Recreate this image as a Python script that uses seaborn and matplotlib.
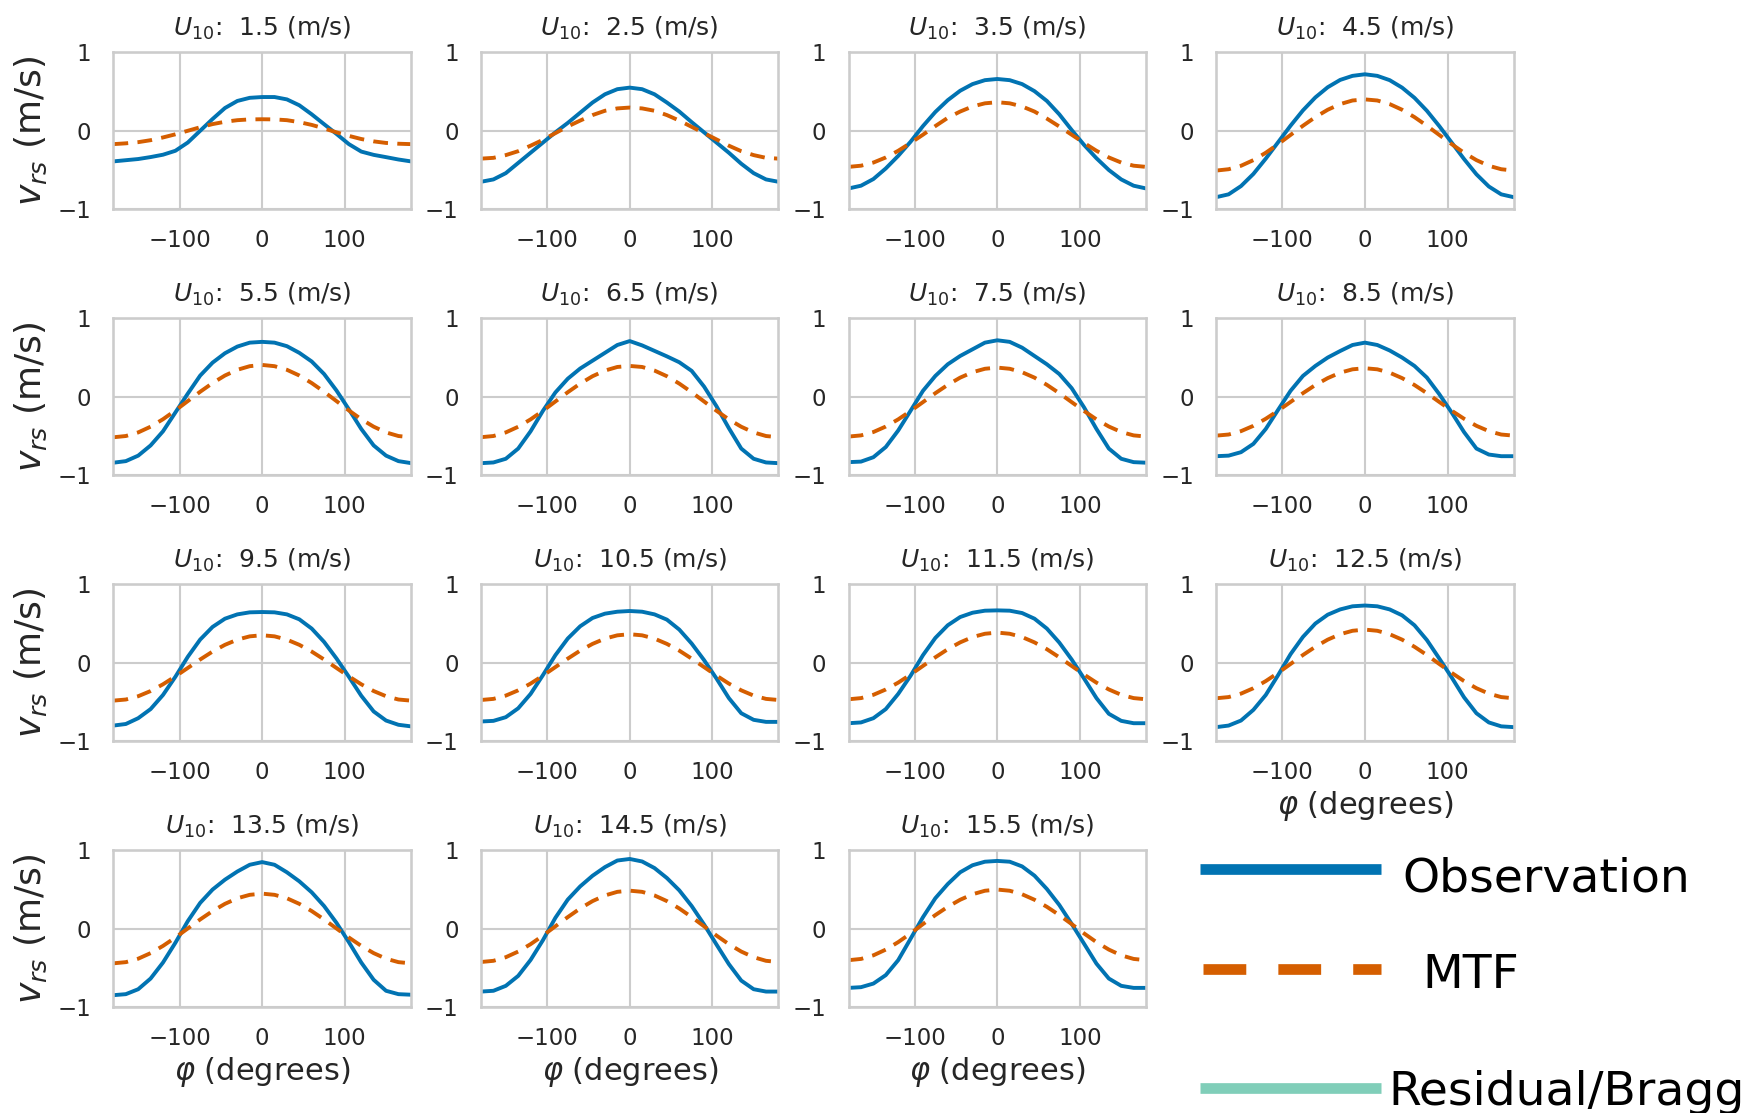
import matplotlib
matplotlib.use("Agg")
import matplotlib.pyplot as plt
from matplotlib.lines import Line2D
import seaborn as sns
import numpy as np

# ---------------- data ----------------
phi = [-180, -165, -150, -135, -120, -105, -90, -75, -60, -45, -30, -15, 0,
       15, 30, 45, 60, 75, 90, 105, 120, 135, 150, 165, 180]

wind_speeds = [1.5, 2.5, 3.5, 4.5, 5.5, 6.5, 7.5, 8.5, 9.5, 10.5, 11.5, 12.5, 13.5, 14.5, 15.5]

obs_01 = [-0.39, -0.375, -0.36, -0.335, -0.305, -0.255, -0.15, 0.0, 0.15, 0.29, 0.38, 0.42, 0.43,
          0.43, 0.40, 0.325, 0.21, 0.084, -0.04, -0.17, -0.265, -0.307, -0.336, -0.366, -0.39]
mtf_01 = [-0.17, -0.16, -0.145, -0.12, -0.085, -0.045, 0.0, 0.045, 0.085, 0.115, 0.135, 0.145, 0.147,
          0.145, 0.135, 0.11, 0.075, 0.03, -0.02, -0.065, -0.105, -0.135, -0.155, -0.165, -0.17]

obs_02 = [-0.65, -0.62, -0.54, -0.41, -0.28, -0.15, -0.02, 0.10, 0.23, 0.36, 0.465, 0.53, 0.55,
          0.53, 0.465, 0.36, 0.245, 0.11, -0.02, -0.15, -0.28, -0.42, -0.54, -0.62, -0.65]
mtf_02 = [-0.355, -0.345, -0.31, -0.26, -0.19, -0.115, -0.03, 0.055, 0.13, 0.2, 0.255, 0.285, 0.296,
          0.285, 0.255, 0.2, 0.13, 0.05, -0.03, -0.11, -0.19, -0.26, -0.31, -0.345, -0.355]

obs_03 = [-0.735, -0.70, -0.615, -0.48, -0.32, -0.14, 0.06, 0.24, 0.39, 0.51, 0.595, 0.645, 0.66,
          0.645, 0.595, 0.505, 0.38, 0.21, 0.01, -0.18, -0.35, -0.50, -0.62, -0.70, -0.735]
mtf_03 = [-0.46, -0.445, -0.405, -0.34, -0.255, -0.155, -0.05, 0.06, 0.165, 0.245, 0.31, 0.35, 0.364,
          0.35, 0.31, 0.245, 0.155, 0.055, -0.05, -0.155, -0.255, -0.34, -0.405, -0.445, -0.46]

obs_04 = [-0.846, -0.81, -0.705, -0.55, -0.355, -0.145, 0.065, 0.26, 0.425, 0.555, 0.648, 0.70, 0.72,
          0.70, 0.645, 0.55, 0.42, 0.255, 0.06, -0.15, -0.36, -0.555, -0.71, -0.81, -0.846]
mtf_04 = [-0.507, -0.49, -0.446, -0.374, -0.28, -0.17, -0.053, 0.064, 0.174, 0.268, 0.34, 0.386, 0.40,
          0.386, 0.34, 0.268, 0.174, 0.064, -0.053, -0.17, -0.28, -0.374, -0.446, -0.49, -0.507]

obs_05 = [-0.84, -0.82, -0.75, -0.62, -0.44, -0.20, 0.04, 0.27, 0.435, 0.555, 0.64, 0.69, 0.70,
          0.69, 0.645, 0.56, 0.45, 0.29, 0.08, -0.16, -0.41, -0.62, -0.75, -0.82, -0.845]
mtf_05 = [-0.516, -0.50, -0.454, -0.381, -0.286, -0.174, -0.055, 0.064, 0.175, 0.271, 0.344, 0.39, 0.406,
          0.39, 0.344, 0.271, 0.175, 0.064, -0.055, -0.174, -0.286, -0.381, -0.454, -0.50, -0.516]

obs_06 = [-0.846, -0.837, -0.79, -0.66, -0.44, -0.178, 0.055, 0.23, 0.36, 0.46, 0.56, 0.66, 0.71,
          0.655, 0.585, 0.515, 0.44, 0.33, 0.13, -0.12, -0.40, -0.66, -0.79, -0.837, -0.846]
mtf_06 = [-0.515, -0.50, -0.454, -0.382, -0.288, -0.178, -0.06, 0.058, 0.168, 0.262, 0.334, 0.38, 0.393,
          0.38, 0.334, 0.262, 0.168, 0.058, -0.06, -0.178, -0.288, -0.382, -0.454, -0.50, -0.515]

obs_07 = [-0.833, -0.826, -0.77, -0.64, -0.43, -0.178, 0.076, 0.266, 0.414, 0.52, 0.605, 0.69, 0.72,
          0.70, 0.626, 0.52, 0.414, 0.29, 0.11, -0.135, -0.41, -0.66, -0.79, -0.833, -0.84]
mtf_07 = [-0.507, -0.492, -0.449, -0.379, -0.288, -0.181, -0.068, 0.046, 0.152, 0.244, 0.313, 0.357, 0.372,
          0.357, 0.313, 0.244, 0.152, 0.046, -0.068, -0.181, -0.288, -0.379, -0.449, -0.492, -0.507]

obs_08 = [-0.757, -0.75, -0.706, -0.60, -0.41, -0.165, 0.076, 0.266, 0.393, 0.50, 0.583, 0.66, 0.69,
          0.66, 0.59, 0.50, 0.393, 0.245, 0.034, -0.20, -0.45, -0.66, -0.736, -0.757, -0.757]
mtf_08 = [-0.495, -0.481, -0.438, -0.37, -0.28, -0.177, -0.066, 0.046, 0.15, 0.238, 0.307, 0.35, 0.364,
          0.35, 0.307, 0.238, 0.15, 0.046, -0.066, -0.177, -0.28, -0.37, -0.438, -0.481, -0.495]

obs_09 = [-0.80, -0.78, -0.706, -0.59, -0.41, -0.178, 0.076, 0.296, 0.457, 0.562, 0.617, 0.643, 0.647,
          0.643, 0.617, 0.554, 0.436, 0.266, 0.055, -0.178, -0.42, -0.62, -0.736, -0.79, -0.81]
mtf_09 = [-0.482, -0.468, -0.426, -0.36, -0.274, -0.173, -0.066, 0.042, 0.143, 0.229, 0.295, 0.337, 0.351,
          0.337, 0.295, 0.229, 0.143, 0.042, -0.066, -0.173, -0.274, -0.36, -0.426, -0.468, -0.482]

obs_10 = [-0.748, -0.74, -0.693, -0.58, -0.397, -0.156, 0.097, 0.309, 0.465, 0.571, 0.626, 0.651, 0.66,
          0.651, 0.617, 0.55, 0.423, 0.245, 0.034, -0.20, -0.45, -0.643, -0.727, -0.753, -0.753]
mtf_10 = [-0.474, -0.46, -0.418, -0.351, -0.265, -0.163, -0.055, 0.053, 0.155, 0.241, 0.308, 0.35, 0.364,
          0.35, 0.308, 0.241, 0.155, 0.053, -0.055, -0.163, -0.265, -0.351, -0.418, -0.46, -0.474]

obs_11 = [-0.77, -0.76, -0.706, -0.59, -0.397, -0.165, 0.097, 0.317, 0.478, 0.583, 0.638, 0.664, 0.668,
          0.664, 0.634, 0.562, 0.436, 0.258, 0.042, -0.20, -0.45, -0.65, -0.74, -0.77, -0.77]
mtf_11 = [-0.465, -0.45, -0.408, -0.34, -0.253, -0.15, -0.04, 0.07, 0.173, 0.26, 0.328, 0.37, 0.385,
          0.37, 0.328, 0.26, 0.173, 0.07, -0.04, -0.15, -0.253, -0.34, -0.408, -0.45, -0.465]

obs_12 = [-0.82, -0.80, -0.736, -0.60, -0.41, -0.156, 0.11, 0.33, 0.50, 0.613, 0.68, 0.72, 0.73,
          0.72, 0.68, 0.605, 0.478, 0.29, 0.055, -0.186, -0.44, -0.643, -0.76, -0.81, -0.82]
mtf_12 = [-0.452, -0.437, -0.393, -0.324, -0.233, -0.128, -0.015, 0.099, 0.204, 0.295, 0.364, 0.408, 0.423,
          0.408, 0.364, 0.295, 0.204, 0.099, -0.015, -0.128, -0.233, -0.324, -0.393, -0.437, -0.452]

obs_13 = [-0.846, -0.833, -0.77, -0.634, -0.43, -0.178, 0.097, 0.33, 0.50, 0.626, 0.73, 0.816, 0.85,
          0.816, 0.72, 0.605, 0.465, 0.29, 0.076, -0.17, -0.43, -0.65, -0.79, -0.833, -0.84]
mtf_13 = [-0.44, -0.425, -0.381, -0.31, -0.218, -0.111, 0.004, 0.119, 0.226, 0.318, 0.389, 0.433, 0.448,
          0.433, 0.389, 0.318, 0.226, 0.119, 0.004, -0.111, -0.218, -0.31, -0.381, -0.425, -0.44]

obs_14 = [-0.80, -0.79, -0.727, -0.60, -0.397, -0.144, 0.14, 0.372, 0.54, 0.676, 0.786, 0.87, 0.89,
          0.858, 0.774, 0.647, 0.49, 0.29, 0.055, -0.20, -0.45, -0.66, -0.77, -0.80, -0.80]
mtf_14 = [-0.423, -0.408, -0.362, -0.29, -0.196, -0.086, 0.032, 0.149, 0.259, 0.353, 0.425, 0.471, 0.486,
          0.471, 0.425, 0.353, 0.259, 0.149, 0.032, -0.086, -0.196, -0.29, -0.362, -0.408, -0.423]

obs_15 = [-0.753, -0.744, -0.698, -0.59, -0.40, -0.127, 0.148, 0.39, 0.57, 0.72, 0.81, 0.855, 0.865,
          0.855, 0.795, 0.677, 0.507, 0.304, 0.063, -0.19, -0.444, -0.634, -0.727, -0.753, -0.753]
mtf_15 = [-0.40, -0.384, -0.338, -0.265, -0.17, -0.059, 0.06, 0.175, 0.28, 0.37, 0.44, 0.485, 0.50,
          0.485, 0.44, 0.37, 0.28, 0.175, 0.06, -0.059, -0.17, -0.265, -0.338, -0.384, -0.40]

obs_series = [obs_01, obs_02, obs_03, obs_04, obs_05, obs_06, obs_07, obs_08,
              obs_09, obs_10, obs_11, obs_12, obs_13, obs_14, obs_15]
mtf_series = [mtf_01, mtf_02, mtf_03, mtf_04, mtf_05, mtf_06, mtf_07, mtf_08,
              mtf_09, mtf_10, mtf_11, mtf_12, mtf_13, mtf_14, mtf_15]

legend_labels = ["Observation", "MTF", "Residual/Bragg"]

# ---------------- style ----------------
sns.set_theme(context="talk", style="whitegrid", palette="colorblind")
plt.rcParams['font.family'] = ['DejaVu Sans']
plt.rcParams['lines.solid_joinstyle'] = 'round'
plt.rcParams['lines.dash_joinstyle'] = 'round'

C_OBS = "#0173b2"
C_MTF = "#d55e00"
C_RES = "#80ceb9"

fig, axes = plt.subplots(4, 4, figsize=(17.45, 11.13), dpi=100)
fig.subplots_adjust(left=0.065, right=0.8674, top=0.953, bottom=0.095,
                    wspace=0.236, hspace=0.695)

flat = axes.ravel()
for i, w in enumerate(wind_speeds):
    ax = flat[i]
    sns.lineplot(x=phi, y=obs_series[i], ax=ax, color=C_OBS, linewidth=2.8)
    sns.lineplot(x=phi, y=mtf_series[i], ax=ax, color=C_MTF, linewidth=2.8,
                 linestyle=(0, (3.8, 2.4)))
    ax.set_xlim(-180, 180)
    ax.set_ylim(-1, 1)
    ax.set_xticks([-100, 0, 100])
    ax.set_yticks([-1, 0, 1])
    ax.tick_params(axis='x', labelsize=16.5, pad=5)
    ax.tick_params(axis='y', labelsize=16.5, pad=7)
    ax.set_title(r"$U_{10}$:  " + f"{w} (m/s)", fontsize=18, pad=12)
    if i % 4 == 0:
        ax.set_ylabel(r"$v_{rs}$ (m/s)", fontsize=26, labelpad=6)
    if i >= 12 or i == 11:
        ax.set_xlabel(r"$\varphi$ (degrees)", fontsize=22, labelpad=4)

flat[15].axis('off')

# ---------------- legend (manual) ----------------
W, H = 1745.0, 1113.0
def fx(px):
    return px / W
def fy(py):
    return 1 - py / H

fig.add_artist(Line2D([fx(1200), fx(1381)], [fy(869), fy(869)], transform=fig.transFigure,
                      color=C_OBS, linewidth=7.7, solid_capstyle='butt'))
fig.add_artist(Line2D([fx(1203), fx(1381)], [fy(969), fy(969)], transform=fig.transFigure,
                      color=C_MTF, linewidth=7.7, linestyle=(0, (4.0, 3.0)), dash_capstyle='butt'))
fig.add_artist(Line2D([fx(1200), fx(1381)], [fy(1088), fy(1088)], transform=fig.transFigure,
                      color=C_RES, linewidth=7.7, solid_capstyle='butt'))

fig.text(fx(1402), fy(891.5), legend_labels[0], fontsize=34, color='black', va='baseline', ha='left')
fig.text(fx(1422), fy(988.5), legend_labels[1], fontsize=34, color='black', va='baseline', ha='left')
fig.text(fx(1388), fy(1105), legend_labels[2], fontsize=34, color='black', va='baseline', ha='left')

fig.savefig("out.png", dpi=100)
